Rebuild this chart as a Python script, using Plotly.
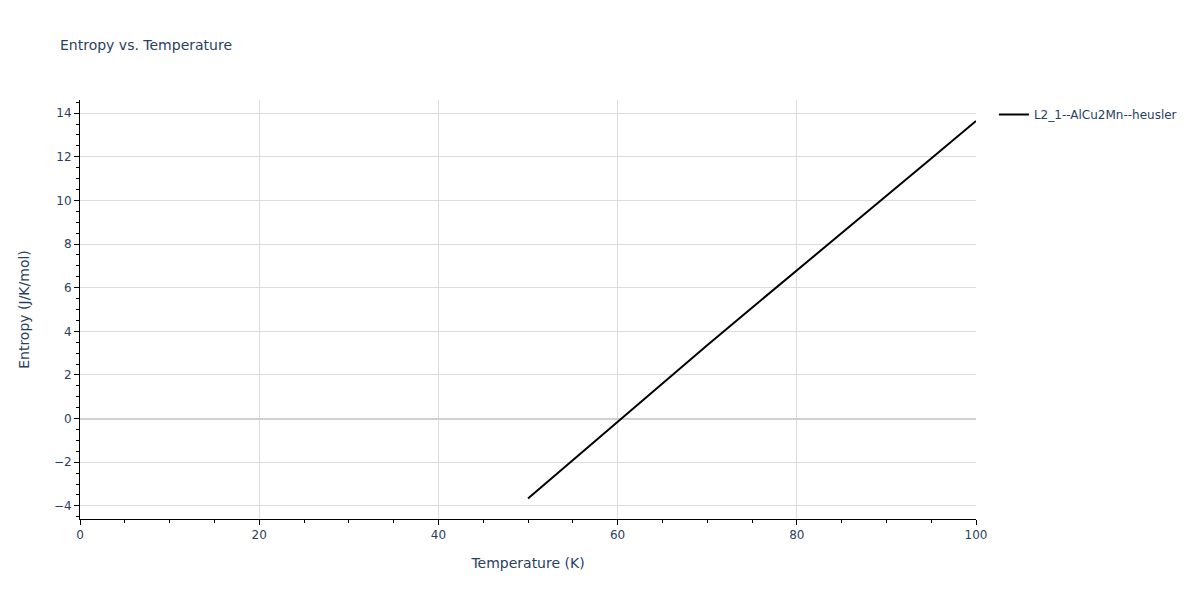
import plotly.graph_objects as go

# Entropy curve
temperature = [50, 55, 60, 65, 70, 75, 80, 85, 90, 95, 100]
entropy = [-3.66, -1.9, -0.12, 1.62, 3.36, 5.08, 6.78, 8.5, 10.2, 11.92, 13.64]
series_name = "L2_1--AlCu2Mn--heusler"

fig = go.Figure()
fig.add_trace(go.Scatter(
    x=temperature,
    y=entropy,
    mode="lines",
    name=series_name,
    line=dict(color="black", width=2),
    showlegend=True,
))

axis_style = dict(
    showline=True,
    linecolor="black",
    linewidth=1,
    ticks="outside",
    tickcolor="black",
    ticklen=5,
    showgrid=True,
    gridcolor="#dcdcdc",
    zeroline=True,
    zerolinecolor="#d0d0d0",
    zerolinewidth=2,
)

# page body has an 8px margin, so offset margins to land the plot where the reference has it
fig.update_layout(
    width=1200,
    height=600,
    title=dict(text="Entropy vs. Temperature", xref="container", x=52 / 1200,
               yref="container", y=1 - 37 / 600, yanchor="middle", font=dict(size=14)),
    template="plotly_white",
    font=dict(family="DejaVu Sans", color="#2a3f5f"),
    margin=dict(l=72, t=92, b=89, r=232),
    xaxis=dict(title=dict(text="Temperature (K)", standoff=16), range=[0, 100], dtick=20,
               minor=dict(ticks="outside", dtick=5, ticklen=3, tickcolor="black", showgrid=False),
               **axis_style),
    yaxis=dict(title=dict(text="Entropy (J/K/mol)", standoff=20), range=[-4.6, 14.6], dtick=2,
               minor=dict(ticks="outside", dtick=0.5, ticklen=3, tickcolor="black", showgrid=False),
               **axis_style),
    legend=dict(x=1.02, y=1, xanchor="left", yanchor="top"),
)

fig.write_html("out.html")
